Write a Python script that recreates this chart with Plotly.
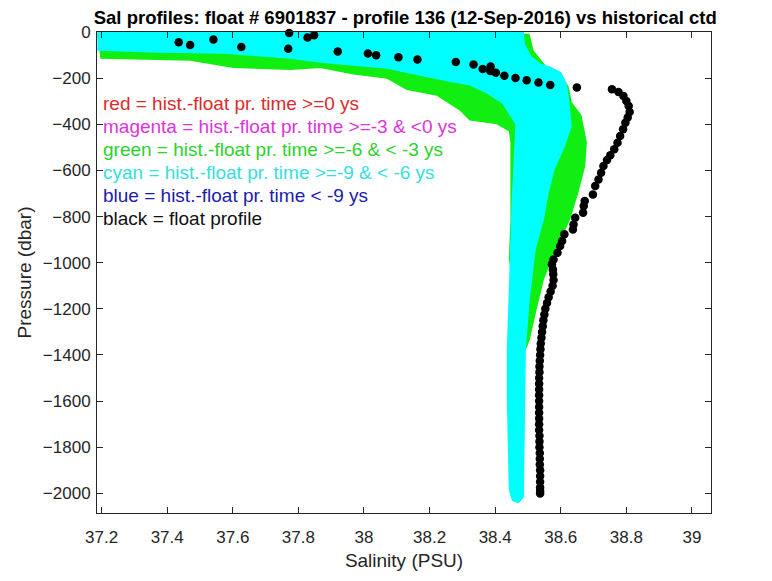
import plotly.graph_objects as go

# ---- historical clouds (outline of dense marker clouds) ----
cyan_sal = [37.187, 38.483, 38.486, 38.507, 38.538, 38.568, 38.598, 38.614, 38.620, 38.629,
            38.608, 38.577, 38.559, 38.544, 38.519, 38.501, 38.489, 38.486, 38.483, 38.470,
            38.455, 38.446, 38.443, 38.440, 38.440, 38.446, 38.449, 38.455, 38.461, 38.466,
            38.425, 38.376, 38.324, 38.272, 38.171, 38.071, 37.968, 37.867, 37.775, 37.572,
            37.370, 37.187]
cyan_pres = [-1, -1, -53, -109, -144, -157, -179, -226, -279, -409,
             -495, -595, -695, -812, -942, -1159, -1376, -1810, -2014, -2036,
             -2027, -1984, -1810, -1593, -1376, -1159, -986, -725, -508, -400,
             -305, -261, -226, -213, -183, -153, -140, -127, -109, -88,
             -83, -75]

green_sal = [37.187, 38.501, 38.513, 38.552, 38.598, 38.620, 38.629, 38.659, 38.675, 38.670,
             38.649, 38.624, 38.574, 38.544, 38.522, 38.501, 38.489, 38.470, 38.446, 38.451,
             38.451, 38.446, 38.405, 38.324, 38.294, 38.223, 38.132, 38.071, 37.968, 37.867,
             37.775, 37.602, 37.471, 37.196]
green_pres = [-14, -14, -83, -153, -187, -240, -306, -364, -479, -581,
              -696, -812, -964, -1072, -1202, -1333, -1376, -1159, -986, -812,
              -479, -427, -393, -378, -335, -270, -245, -196, -178, -150,
              -158, -150, -118, -109]

# ---- float profile (black) ----
float_sal = [37.772, 37.848, 37.828, 37.541, 37.435, 37.470, 37.626, 37.769, 37.920, 38.012,
             38.037, 38.105, 38.163, 38.280, 38.334, 38.386, 38.362, 38.385, 38.402, 38.428,
             38.462, 38.496, 38.532, 38.568, 38.649, 38.756, 38.776, 38.791, 38.800, 38.807,
             38.810, 38.804, 38.797, 38.790, 38.781, 38.773, 38.763, 38.751, 38.741, 38.730,
             38.723, 38.715, 38.705, 38.698, 38.673, 38.670, 38.668, 38.644, 38.639, 38.637,
             38.611, 38.604, 38.598, 38.590, 38.578, 38.573, 38.576, 38.577, 38.578, 38.575,
             38.569, 38.563, 38.558, 38.553, 38.550, 38.547, 38.545, 38.543, 38.541, 38.539,
             38.538, 38.537, 38.536, 38.535, 38.535, 38.534, 38.534, 38.534, 38.534, 38.534,
             38.534, 38.534, 38.534, 38.534, 38.534, 38.535, 38.535, 38.535, 38.536, 38.536,
             38.536, 38.537, 38.537, 38.537, 38.537, 38.537, 38.537]
float_pres = [-4, -14, -24, -33, -44, -56, -65, -73, -85, -93,
              -101, -109, -119, -130, -141, -150, -160, -169, -177, -190,
              -199, -209, -219, -230, -241, -248, -260, -277, -299, -321,
              -347, -371, -393, -422, -451, -480, -508, -534, -555, -581,
              -610, -639, -668, -704, -733, -754, -783, -805, -834, -856,
              -877, -906, -928, -957, -986, -1007, -1029, -1050, -1075, -1100,
              -1125, -1150, -1175, -1200, -1225, -1250, -1275, -1300, -1325, -1350,
              -1375, -1400, -1425, -1450, -1475, -1500, -1525, -1550, -1575, -1600,
              -1625, -1650, -1675, -1700, -1725, -1750, -1775, -1800, -1825, -1850,
              -1875, -1900, -1925, -1950, -1975, -1990, -2000]

legend_lines = ["red = hist.-float pr. time >=0 ys",
                "magenta = hist.-float pr. time >=-3 & <0 ys",
                "green = hist.-float pr. time >=-6 & < -3 ys",
                "cyan = hist.-float pr. time >=-9 & < -6 ys",
                "blue = hist.-float pr. time < -9 ys",
                "black = float profile"]
legend_colors = ["#dd2a2a", "#dd33dd", "#2ed12e", "#33e0e0", "#1c1ca8", "#111111"]

title = "Sal profiles: float # 6901837 - profile 136 (12-Sep-2016) vs historical ctd"

FONT = "Liberation Sans, Arial, sans-serif"
AX = "#262626"

fig = go.Figure()
fig.add_trace(go.Scatter(x=green_sal, y=green_pres, mode="lines", fill="toself",
                         fillcolor="#11ee11", line=dict(color="#11ee11", width=3),
                         hoverinfo="skip", showlegend=False))
fig.add_trace(go.Scatter(x=cyan_sal, y=cyan_pres, mode="lines", fill="toself",
                         fillcolor="#00ffff", line=dict(color="#00ffff", width=3),
                         hoverinfo="skip", showlegend=False))
fig.add_trace(go.Scatter(x=float_sal, y=float_pres, mode="markers",
                         marker=dict(color="black", size=8.5, line=dict(width=0)),
                         cliponaxis=False, showlegend=False))

for i, (t, c) in enumerate(zip(legend_lines, legend_colors)):
    fig.add_annotation(x=0.0065, y=0.852 - i * 0.0478, xref="paper", yref="paper",
                       text=t, showarrow=False, xanchor="left", yanchor="middle",
                       font=dict(family=FONT, size=19, color=c))

# page body has an 8px default margin -> figure is 8px smaller and margins shifted
fig.update_layout(
    width=764, height=573,
    margin=dict(l=89, r=61, t=24, b=68),
    plot_bgcolor="white", paper_bgcolor="white",
    title=dict(text="<b>" + title + "</b>", x=0.52, xanchor="center", y=0.984, yanchor="middle",
               font=dict(family=FONT, size=18.5, color="black")),
    font=dict(family=FONT, color=AX),
    xaxis=dict(range=[37.186, 39.058], tickvals=[37.2, 37.4, 37.6, 37.8, 38, 38.2, 38.4, 38.6, 38.8, 39],
               ticktext=["37.2", "37.4", "37.6", "37.8", "38", "38.2", "38.4", "38.6", "38.8", "39"],
               ticks="inside", ticklen=6, tickcolor=AX, showline=True, linecolor=AX, linewidth=1,
               mirror="ticks", showgrid=False, zeroline=False, ticklabelstandoff=9,
               tickfont=dict(family=FONT, size=17, color=AX),
               title=dict(text="Salinity (PSU)", font=dict(family=FONT, size=19, color=AX), standoff=7)),
    yaxis=dict(range=[-2085, 0], tickvals=list(range(-2000, 1, 200)),
               ticks="inside", ticklen=6, tickcolor=AX, showline=True, linecolor=AX, linewidth=1,
               mirror="ticks", showgrid=False, zeroline=False, ticklabelstandoff=2,
               tickfont=dict(family=FONT, size=17, color=AX),
               title=dict(text="Pressure (dbar)", font=dict(family=FONT, size=19, color=AX), standoff=6)),
)

fig.write_html("out.html")
